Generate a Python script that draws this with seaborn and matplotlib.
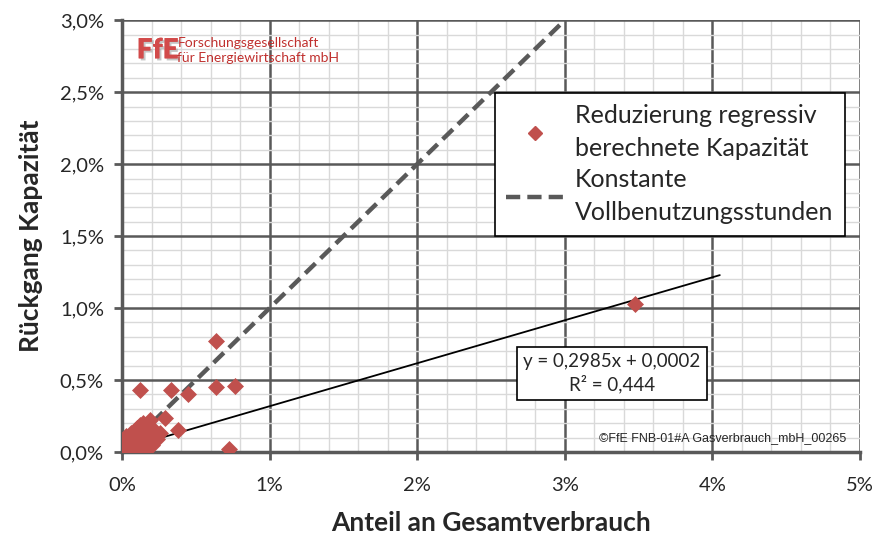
import numpy as np
import pandas as pd
import seaborn as sns
import matplotlib.pyplot as plt
from matplotlib.ticker import FuncFormatter, MultipleLocator
from matplotlib.lines import Line2D
import matplotlib.patheffects as pe

# Werte in Prozent
anteil = [3.475, 0.637, 0.637, 0.766, 0.33, 0.12, 0.447, 0.38, 0.725, 0.29,
          0.19, 0.16, 0.26, 0.22, 0.14, 0.10, 0.08, 0.05, 0.03, 0.02,
          0.01, 0.04, 0.06, 0.09, 0.12, 0.15, 0.18, 0.11, 0.07, 0.13,
          0.17, 0.20, 0.08, 0.05, 0.02, 0.10, 0.14, 0.03, 0.06, 0.12,
          0.16, 0.09, 0.04, 0.21, 0.24, 0.18, 0.01, 0.07]
rueckgang = [1.03, 0.77, 0.45, 0.46, 0.43, 0.43, 0.40, 0.15, 0.02, 0.24,
             0.22, 0.18, 0.13, 0.15, 0.20, 0.17, 0.14, 0.10, 0.06, 0.03,
             0.01, 0.05, 0.08, 0.12, 0.10, 0.12, 0.08, 0.06, 0.03, 0.04,
             0.03, 0.05, 0.01, 0.02, 0.08, 0.14, 0.16, 0.11, 0.13, 0.19,
             0.09, 0.02, 0.07, 0.12, 0.09, 0.15, 0.04, 0.10]
konst_x = [0.0, 3.0]
trend_x = [0.0, 4.05]
steigung, achse = 0.2985, 0.02  # achse in Prozent (0,0002)

df = pd.DataFrame({'anteil': anteil, 'rueckgang': rueckgang})
df_konst = pd.DataFrame({'x': konst_x, 'y': konst_x})
df_trend = pd.DataFrame({'x': trend_x, 'y': [steigung * v + achse for v in trend_x]})

sns.set_style('white')
plt.rcParams['font.family'] = ['Lato', 'DejaVu Sans']

fig = plt.figure(figsize=(8.74, 5.35), dpi=100)
ax = fig.add_axes([0.1396, 0.155, 0.8444, 0.8074])

dunkel = '#595959'
rot = '#c0504d'

sns.lineplot(data=df_trend, x='x', y='y', ax=ax, color='black', lw=1.3, zorder=4)
sns.lineplot(data=df_konst, x='x', y='y', ax=ax, color=dunkel, lw=3.2,
             dashes=False, zorder=3).lines[-1].set_dashes([3.2, 1.6])
sns.scatterplot(data=df, x='anteil', y='rueckgang', ax=ax, marker='D', s=75,
                color=rot, edgecolor=rot, linewidth=0, zorder=5)

ax.set_xlim(0, 5)
ax.set_ylim(0, 3)
ax.xaxis.set_major_locator(MultipleLocator(1))
ax.xaxis.set_minor_locator(MultipleLocator(0.2))
ax.yaxis.set_major_locator(MultipleLocator(0.5))
ax.yaxis.set_minor_locator(MultipleLocator(0.1))
ax.xaxis.set_major_formatter(FuncFormatter(lambda v, p: f'{v:.0f}%'))
ax.yaxis.set_major_formatter(FuncFormatter(lambda v, p: f'{v:.1f}%'.replace('.', ',')))

ax.grid(which='minor', color='#d9d9d9', lw=1.0)
ax.grid(which='major', color=dunkel, lw=1.8)
ax.set_axisbelow(True)
for s in ['top', 'right']:
    ax.spines[s].set_visible(False)
for s in ['left', 'bottom']:
    ax.spines[s].set_color(dunkel)
    ax.spines[s].set_linewidth(2.5)
ax.tick_params(which='major', direction='out', length=6, width=2, color=dunkel,
               labelsize=14.5, left=True, bottom=True)
ax.tick_params(axis='x', which='major', pad=12)
ax.tick_params(axis='y', which='major', pad=7)
ax.tick_params(which='minor', length=0)

ax.set_xlabel('Anteil an Gesamtverbrauch', fontsize=19, fontweight='bold', labelpad=12)
ax.set_ylabel('Rückgang Kapazität', fontsize=19, fontweight='bold', labelpad=12)

handles = [Line2D([], [], marker='D', color=rot, ls='none', markersize=7),
           Line2D([], [], color=dunkel, lw=3.2, dashes=[3.2, 1.6])]
labels = ['Reduzierung regressiv\nberechnete Kapazität',
          'Konstante\nVollbenutzungsstunden']
leg = ax.legend(handles, labels, loc='upper right', bbox_to_anchor=(0.979, 0.832),
                fontsize=18, frameon=True, fancybox=False, edgecolor='black',
                framealpha=1, borderpad=0.45, labelspacing=0.3, handlelength=2.3,
                handletextpad=0.45, borderaxespad=0)
leg.get_frame().set_linewidth(1.2)
for t in leg.get_texts():
    t.set_linespacing(1.55)

ax.text(3.32, 0.545, 'y = 0,2985x + 0,0002\nR² = 0,444', ha='center', va='center',
        fontsize=13.5, linespacing=1.3, zorder=6,
        bbox=dict(boxstyle='square,pad=0.35', fc='white', ec='black', lw=1.2))

ax.text(4.91, 0.10, '©FfE FNB-01#A Gasverbrauch_mbH_00265', ha='right', va='center',
        fontsize=9, family='Liberation Sans', zorder=6)

# Logo
ax.text(0.1, 2.79, 'FfE', ha='left', va='center', fontsize=20, fontweight='heavy',
        color='#d24a4a', zorder=6,
        path_effects=[pe.withSimplePatchShadow(offset=(1.5, -1.5),
                                               shadow_rgbFace='#a0a0a0',
                                               alpha=0.6), pe.Normal()])
ax.text(0.375, 2.79, 'Forschungsgesellschaft\nfür Energiewirtschaft mbH', ha='left',
        va='center', fontsize=10, color='#c0302e', linespacing=1.35, zorder=6)

fig.savefig('out.png', dpi=100)
